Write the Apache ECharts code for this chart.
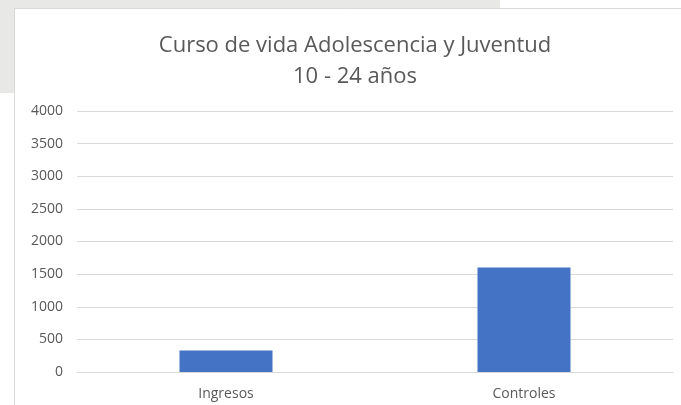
<!DOCTYPE html>
<html>
<head>
<meta charset="utf-8">
<script src="https://cdn.jsdelivr.net/npm/echarts@6/dist/echarts.min.js"></script>
<style>
  html, body { margin: 0; padding: 0; background: #ffffff; }
  #chart { width: 681px; height: 405px; }
</style>
</head>
<body>
<div id="chart"></div>
<script>
// datos del gráfico
var categorias = ['Ingresos', 'Controles'];
var valores = [330, 1600];
var ejeY = [0, 500, 1000, 1500, 2000, 2500, 3000, 3500, 4000];

var chart = echarts.init(document.getElementById('chart'));

var option = {
  backgroundColor: '#ffffff',
  animation: false,
  graphic: [
    // fondo gris de la hoja
    { type: 'rect', z: -10, shape: { x: 0, y: 0, width: 500, height: 93 }, style: { fill: '#e8e9e7' } },
    // marco blanco del gráfico
    { type: 'rect', z: -9, shape: { x: 14.5, y: 8.5, width: 700, height: 420 },
      style: { fill: '#ffffff', stroke: '#d9d9d9', lineWidth: 1 } }
  ],
  title: {
    text: 'Curso de vida Adolescencia y Juventud\n10 - 24 años',
    left: 350,
    top: 25,
    textAlign: 'center',
    textStyle: {
      fontFamily: 'Open Sans',
      fontSize: 22,
      fontWeight: 'normal',
      color: '#595959',
      lineHeight: 31
    }
  },
  grid: {
    left: 77,
    right: 8,
    top: 111,
    bottom: 33
  },
  xAxis: {
    type: 'category',
    data: categorias,
    axisLine: { show: true, lineStyle: { color: '#d9d9d9', width: 1 } },
    axisTick: { show: false },
    axisLabel: {
      margin: 15,
      color: '#595959',
      fontFamily: 'Open Sans',
      fontSize: 14
    }
  },
  yAxis: {
    type: 'value',
    min: ejeY[0],
    max: ejeY[ejeY.length - 1],
    interval: 500,
    axisLine: { show: false },
    axisTick: { show: false },
    splitLine: { lineStyle: { color: '#d9d9d9', width: 1 } },
    axisLabel: {
      margin: 14,
      color: '#595959',
      fontFamily: 'Open Sans',
      fontSize: 14,
      formatter: function (v) { return String(v); }
    }
  },
  series: [{
    type: 'bar',
    data: valores,
    barWidth: 93,
    itemStyle: { color: '#4472c4' }
  }]
};

chart.setOption(option);
</script>
</body>
</html>
